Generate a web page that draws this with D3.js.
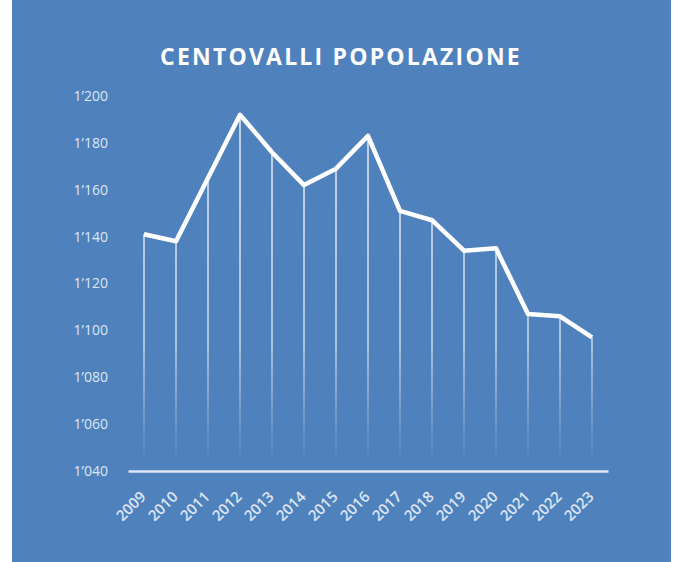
<!DOCTYPE html>
<html lang="it">
  <head>
    <meta charset="utf-8" />
    <title>Centovalli popolazione</title>
    <script src="https://d3js.org/d3.v7.min.js"></script>
    <style>
      html, body { margin: 0; padding: 0; background: #fff; }
      svg { display: block; }
    </style>
  </head>
  <body>
    <div id="chart"></div>
    <script>
      const years = ["2009", "2010", "2011", "2012", "2013", "2014", "2015", "2016",
        "2017", "2018", "2019", "2020", "2021", "2022", "2023"];
      const population = [1141, 1138, 1165, 1192, 1176, 1162, 1169, 1183,
        1151, 1147, 1134, 1135, 1107, 1106, 1097];
      const yTicks = [1040, 1060, 1080, 1100, 1120, 1140, 1160, 1180, 1200];

      const width = 676;
      const height = 562;
      const blue = "#4f81bd";
      const light = "#dde7f3";

      const svg = d3.select("#chart")
        .append("svg")
        .attr("width", width)
        .attr("height", height);

      svg.append("rect")
        .attr("x", 12).attr("y", 0)
        .attr("width", 659).attr("height", height)
        .attr("fill", blue);

      const x = d3.scaleBand().domain(years).range([128, 608]);
      const y = d3.scaleLinear().domain([1040, 1200]).range([471, 96]);

      const fmt = (d) => d3.format(",")(d).replace(",", "\u2019");

      // title
      svg.append("text")
        .attr("x", 341)
        .attr("y", 65)
        .attr("text-anchor", "middle")
        .attr("fill", "#fff")
        .style("font-family", "'Open Sans', sans-serif")
        .style("font-weight", "700")
        .style("font-size", "23px")
        .style("letter-spacing", "2.2px")
        .text("CENTOVALLI POPOLAZIONE");

      // fading drop lines
      const grad = svg.append("defs").append("linearGradient")
        .attr("id", "fade")
        .attr("gradientUnits", "userSpaceOnUse")
        .attr("x1", 0).attr("x2", 0)
        .attr("y1", y(1200)).attr("y2", y(1040));
      grad.append("stop").attr("offset", "0%").attr("stop-color", "#fff").attr("stop-opacity", 0.9);
      grad.append("stop").attr("offset", "65%").attr("stop-color", "#fff").attr("stop-opacity", 0.7);
      grad.append("stop").attr("offset", "98%").attr("stop-color", "#fff").attr("stop-opacity", 0);

      const cx = (d) => x(d) + x.bandwidth() / 2;

      svg.selectAll(".drop")
        .data(years)
        .enter()
        .append("line")
        .attr("class", "drop")
        .attr("x1", cx).attr("x2", cx)
        .attr("y1", (d, i) => y(population[i]))
        .attr("y2", y(1040) - 2)
        .attr("stroke", "url(#fade)")
        .attr("stroke-width", 1.5);

      // y axis
      const yAxis = svg.append("g")
        .attr("transform", "translate(108,0)")
        .call(d3.axisLeft(y).tickValues(yTicks).tickFormat(fmt).tickSize(0).tickPadding(0));
      yAxis.select(".domain").remove();
      yAxis.selectAll("text")
        .attr("fill", light)
        .style("font-family", "'Open Sans', sans-serif")
        .style("font-size", "14px");

      // x axis
      const xAxis = svg.append("g")
        .attr("transform", `translate(0,${y(1040)})`)
        .call(d3.axisBottom(x).tickSize(0).tickPadding(0));
      xAxis.select(".domain")
        .attr("stroke", light)
        .attr("stroke-width", 2.5);
      xAxis.selectAll("text")
        .attr("fill", light)
        .attr("text-anchor", "end")
        .attr("y", 0)
        .attr("dy", "0.35em")
        .attr("transform", "translate(-1,23) rotate(-45)")
        .style("font-family", "'Open Sans', sans-serif")
        .style("font-weight", "600")
        .style("font-size", "15px");

      // line
      const line = d3.line()
        .x((d, i) => cx(years[i]))
        .y((d) => y(d));

      svg.append("path")
        .datum(population)
        .attr("fill", "none")
        .attr("stroke", "#fff")
        .attr("stroke-width", 4.5)
        .attr("stroke-linejoin", "round")
        .attr("d", line);
    </script>
  </body>
</html>
